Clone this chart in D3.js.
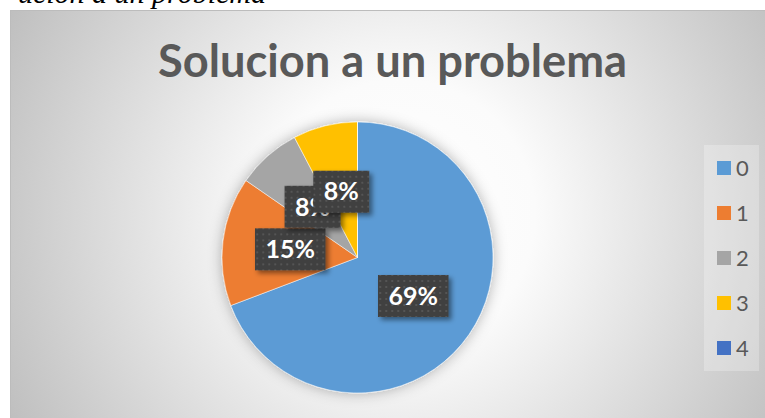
<!DOCTYPE html>
<html>
<head>
<meta charset="utf-8">
<script src="https://cdn.jsdelivr.net/npm/d3@7"></script>
<style>
  html, body { margin: 0; padding: 0; background: #fff; }
  svg { display: block; }
</style>
</head>
<body>
<script>
var categories = ['0', '1', '2', '3', '4'];
var counts = [9, 2, 1, 1, 0];
var colors = ['#5b9bd5', '#ed7d31', '#a5a5a5', '#ffc000', '#4472c4'];
var title = 'Solucion a un problema';
var caption = 'ución a un problema';

var w = 765, h = 418,
    cx = 357.5, cy = 257.5, r = 135.5;

var svg = d3.select('body').append('svg')
    .attr('width', w)
    .attr('height', h);

var defs = svg.append('defs');

var grad = defs.append('radialGradient')
    .attr('id', 'bg')
    .attr('gradientUnits', 'userSpaceOnUse')
    .attr('cx', 400).attr('cy', 215).attr('r', 450);
grad.append('stop').attr('offset', '0').attr('stop-color', '#ffffff');
grad.append('stop').attr('offset', '0.3').attr('stop-color', '#fbfbfb');
grad.append('stop').attr('offset', '1').attr('stop-color', '#bdbdbd');

var glow = defs.append('filter').attr('id', 'glow')
    .attr('x', '-20%').attr('y', '-20%').attr('width', '140%').attr('height', '140%');
glow.append('feGaussianBlur').attr('in', 'SourceAlpha').attr('stdDeviation', 7).attr('result', 'b');
glow.append('feFlood').attr('flood-color', '#000').attr('flood-opacity', 0.3);
glow.append('feComposite').attr('in2', 'b').attr('operator', 'in').attr('result', 's');
var gm = glow.append('feMerge');
gm.append('feMergeNode').attr('in', 's');
gm.append('feMergeNode').attr('in', 'SourceGraphic');

var shadow = defs.append('filter').attr('id', 'shadow')
    .attr('x', '-30%').attr('y', '-30%').attr('width', '160%').attr('height', '160%');
shadow.append('feGaussianBlur').attr('in', 'SourceAlpha').attr('stdDeviation', 2.5).attr('result', 'b');
shadow.append('feOffset').attr('in', 'b').attr('dx', 3).attr('dy', 3).attr('result', 'o');
shadow.append('feFlood').attr('flood-color', '#000').attr('flood-opacity', 0.45);
shadow.append('feComposite').attr('in2', 'o').attr('operator', 'in').attr('result', 's');
var sm = shadow.append('feMerge');
sm.append('feMergeNode').attr('in', 's');
sm.append('feMergeNode').attr('in', 'SourceGraphic');

var pat = defs.append('pattern')
    .attr('id', 'dots')
    .attr('patternUnits', 'userSpaceOnUse')
    .attr('width', 6).attr('height', 6);
pat.append('rect').attr('width', 6).attr('height', 6).attr('fill', '#3f3f3f');
pat.append('rect').attr('x', 2).attr('y', 2).attr('width', 2).attr('height', 2).attr('fill', '#555555');

// caption of the document, cut by the top of the picture
svg.append('text')
    .attr('x', 266).attr('y', 3)
    .attr('text-anchor', 'end')
    .style('font-family', '"Liberation Serif", "Times New Roman", serif')
    .style('font-style', 'italic')
    .style('font-size', '30px')
    .attr('fill', '#000')
    .text(caption);

svg.append('rect')
    .attr('x', 10.5).attr('y', 10.5)
    .attr('width', w).attr('height', h)
    .attr('fill', 'url(#bg)')
    .attr('stroke', '#bcbcbc');

svg.append('text')
    .attr('x', 392.5).attr('y', 77)
    .attr('text-anchor', 'middle')
    .attr('textLength', 469)
    .attr('lengthAdjust', 'spacingAndGlyphs')
    .style('font-family', 'Lato, "Open Sans", sans-serif')
    .style('font-weight', 'bold')
    .style('font-size', '46px')
    .attr('fill', '#595959')
    .text(title);

var data = categories.map(function(c, i) { return {cat: c, n: counts[i], color: colors[i]}; });
var total = d3.sum(counts);

var pie = d3.pie().sort(null).value(function(d) { return d.n; });
var arc = d3.arc().innerRadius(0).outerRadius(r);
var arcs = pie(data);

var g = svg.append('g').attr('transform', 'translate(' + cx + ',' + cy + ')');

g.append('g').attr('filter', 'url(#glow)')
  .selectAll('path')
    .data(arcs)
  .enter().append('path')
    .attr('d', arc)
    .attr('fill', function(d) { return d.data.color; })
    .attr('stroke', '#fff')
    .attr('stroke-width', 0.5);

var fmt = d3.format('.0%');
var labels = g.selectAll('g.lab')
    .data(arcs.filter(function(d) { return d.data.n > 0; }))
  .enter().append('g')
    .attr('class', 'lab')
    .attr('transform', function(d) { return 'translate(' + arc.centroid(d) + ')'; });

labels.each(function(d) {
    var lg = d3.select(this);
    var box = lg.append('rect').attr('fill', 'url(#dots)').attr('filter', 'url(#shadow)');
    var txt = lg.append('text')
        .attr('text-anchor', 'middle')
        .attr('dy', '0.35em')
        .style('font-family', 'Lato, "Open Sans", sans-serif')
        .style('font-weight', 'bold')
        .style('font-size', '25px')
        .attr('fill', '#fff')
        .text(fmt(d.data.n / total));
    var tw = txt.node().getComputedTextLength();
    box.attr('x', -tw / 2 - 10.5).attr('y', -21)
        .attr('width', tw + 21).attr('height', 42);
});

var legend = svg.append('g');
legend.append('rect')
    .attr('x', 704).attr('y', 145)
    .attr('width', 55).attr('height', 226)
    .attr('fill', '#ffffff')
    .attr('fill-opacity', 0.25);

var ly = d3.scalePoint().domain(categories).range([168, 348]);

var items = legend.selectAll('g.item')
    .data(data)
  .enter().append('g')
    .attr('class', 'item')
    .attr('transform', function(d) { return 'translate(717,' + ly(d.cat) + ')'; });

items.append('rect')
    .attr('x', 0).attr('y', -7)
    .attr('width', 14).attr('height', 14)
    .attr('fill', function(d) { return d.color; });

items.append('text')
    .attr('x', 19).attr('dy', '0.36em')
    .style('font-family', 'Lato, "Open Sans", sans-serif')
    .style('font-size', '22px')
    .attr('fill', '#595959')
    .text(function(d) { return d.cat; });
</script>
</body>
</html>
